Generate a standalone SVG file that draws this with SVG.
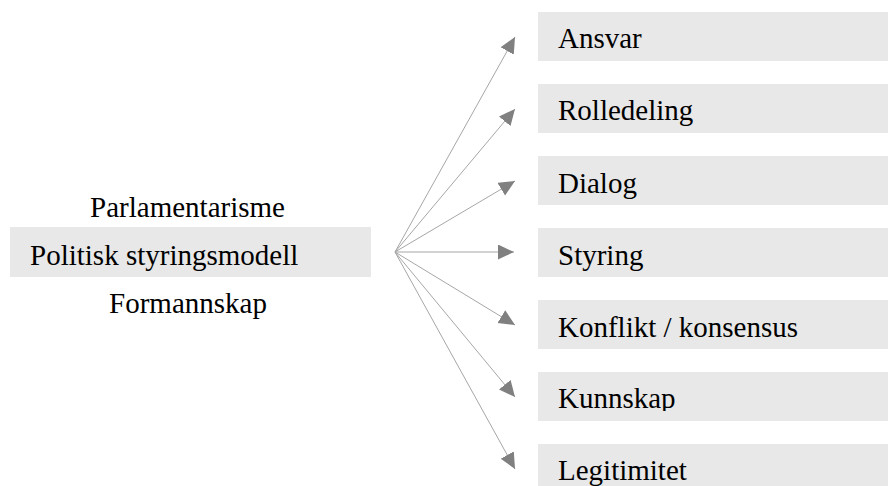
<svg xmlns="http://www.w3.org/2000/svg" width="888" height="486" viewBox="0 0 888 486">
<style>
.box{fill:#e8e8e8;stroke:none}
.t{font-family:'Liberation Serif','Times New Roman',serif;font-size:29px;fill:#000}
.c{stroke:#a6a6a6;stroke-width:1;fill:none}
</style>
<defs>
<marker id="ah" markerUnits="userSpaceOnUse" markerWidth="18" markerHeight="16" refX="16" refY="7.5" orient="auto">
<path d="M0,0 L16,7.5 L0,15 Z" fill="#808080"/>
</marker>
<clipPath id="cl"><rect x="0" y="180" width="380" height="140"/></clipPath>
<clipPath id="c1"><rect x="538" y="12" width="350" height="43"/></clipPath>
<clipPath id="c2"><rect x="538" y="84" width="350" height="43"/></clipPath>
<clipPath id="c3"><rect x="538" y="156" width="350" height="43"/></clipPath>
<clipPath id="c4"><rect x="538" y="228" width="350" height="44"/></clipPath>
<clipPath id="c5"><rect x="538" y="300" width="350" height="43"/></clipPath>
<clipPath id="c6"><rect x="538" y="372" width="350" height="39"/></clipPath>
<clipPath id="c7"><rect x="538" y="444" width="350" height="42"/></clipPath>
</defs>
<rect width="888" height="486" fill="#fff"/>
<g id="connectors">
<line class="c" x1="395" y1="252" x2="515" y2="37" marker-end="url(#ah)"/>
<line class="c" x1="395" y1="252" x2="515" y2="109" marker-end="url(#ah)"/>
<line class="c" x1="395" y1="252" x2="515" y2="181" marker-end="url(#ah)"/>
<line class="c" x1="395" y1="252" x2="514" y2="252" stroke="#8c8c8c" marker-end="url(#ah)"/>
<line class="c" x1="395" y1="252" x2="515" y2="325" marker-end="url(#ah)"/>
<line class="c" x1="395" y1="252" x2="515" y2="397" marker-end="url(#ah)"/>
<line class="c" x1="395" y1="252" x2="515" y2="469" marker-end="url(#ah)"/>
</g>
<g id="center">
<rect class="box" x="10" y="227" width="361" height="50"/>
<g clip-path="url(#cl)">
<text class="t" x="187.5" y="217" text-anchor="middle">Parlamentarisme</text>
<text class="t" x="30" y="265">Politisk styringsmodell</text>
<text class="t" x="188" y="313" text-anchor="middle">Formannskap</text>
</g>
</g>
<g id="n1"><rect class="box" x="538" y="12" width="350" height="49"/><text class="t" x="558" y="48" clip-path="url(#c1)">Ansvar</text></g>
<g id="n2"><rect class="box" x="538" y="84" width="350" height="49"/><text class="t" x="558" y="120" clip-path="url(#c2)">Rolledeling</text></g>
<g id="n3"><rect class="box" x="538" y="156" width="350" height="49"/><text class="t" x="558" y="193" clip-path="url(#c3)">Dialog</text></g>
<g id="n4"><rect class="box" x="538" y="228" width="350" height="49"/><text class="t" x="558" y="265" clip-path="url(#c4)">Styring</text></g>
<g id="n5"><rect class="box" x="538" y="300" width="350" height="49"/><text class="t" x="558" y="337" clip-path="url(#c5)">Konflikt / konsensus</text></g>
<g id="n6"><rect class="box" x="538" y="372" width="350" height="49"/><text class="t" x="558" y="408" clip-path="url(#c6)">Kunnskap</text></g>
<g id="n7"><rect class="box" x="538" y="444" width="350" height="42"/><text class="t" x="558" y="480" clip-path="url(#c7)">Legitimitet</text></g>
</svg>
